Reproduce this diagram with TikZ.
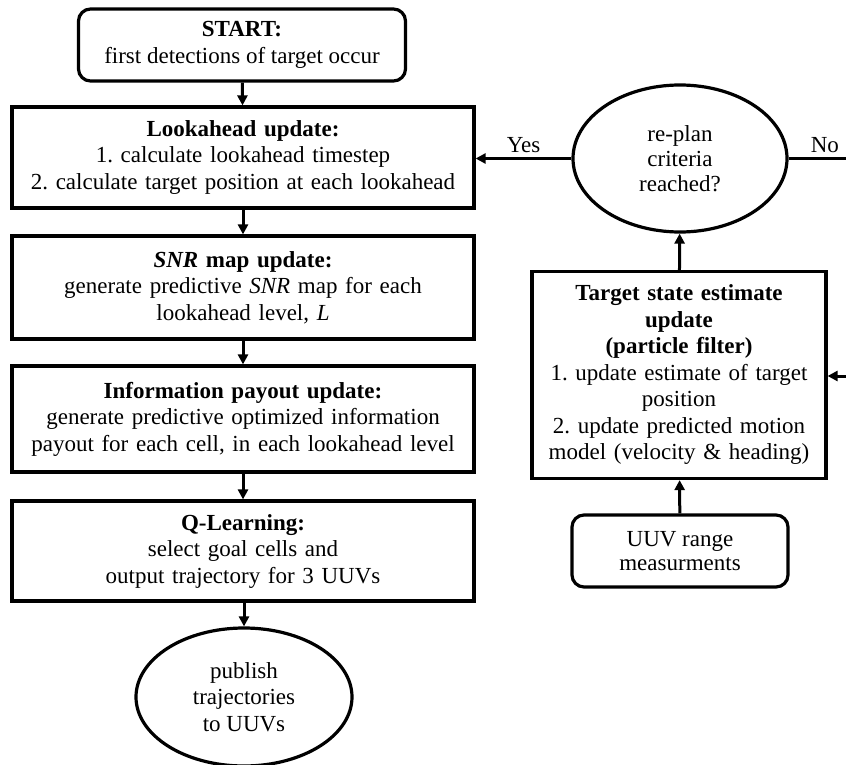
\documentclass[tikz,border=0pt]{standalone}
\usepackage{fontspec}
\setmainfont{Liberation Serif}
\usetikzlibrary{arrows.meta,shapes.geometric}
\frenchspacing
\begin{document}
\begin{tikzpicture}[x=1pt,y=-1pt,
  every node/.style={align=center,font=\fontsize{23}{26.5}\selectfont,inner sep=0pt},
  procbox/.style={draw,line width=3.2pt,minimum width=#1,text width=#1-8pt},
  termbox/.style={draw,line width=3.2pt,rounded corners=12pt,minimum width=#1},
  oval/.style={draw,ellipse,line width=3.2pt},
  flow/.style={line width=3pt,-{Triangle[length=10pt,width=10pt]}},
  edge/.style={line width=3pt}]
\useasboundingbox (0,0) rectangle (846,765);

% main column
\node[termbox=327pt,minimum height=72pt] (start) at (242,45)
  {\textbf{START:}\\first detections of target occur};
\node[procbox=462pt,minimum height=101pt] (look) at (243,157.5)
  {\textbf{Lookahead update:}\\1. calculate lookahead timestep\\2. calculate target position at each lookahead};
\node[procbox=462pt,minimum height=103pt] (snr) at (243,287.5)
  {\textbf{\textit{SNR} map update:}\\generate predictive \textit{SNR} map for each\\lookahead level, \textit{L}};
\node[procbox=462pt,minimum height=106pt] (info) at (243,419)
  {\textbf{Information payout update:}\\generate predictive optimized information\\payout for each cell, in each lookahead level};
\node[procbox=462pt,minimum height=100pt] (qlearn) at (243,551)
  {\textbf{Q-Learning:}\\select goal cells and\\output trajectory for 3 UUVs};
\node[oval,minimum width=216pt,minimum height=138pt] (pub) at (244,697)
  {publish\\trajectories\\to UUVs};

% right column
\node[oval,minimum width=214pt,minimum height=147pt,font=\fontsize{23}{25}\selectfont] (replan) at (680,158.5)
  {re-plan\\criteria\\reached?};
\node[procbox=294pt,minimum height=207pt] (target) at (679,375)
  {\textbf{Target state estimate}\\\textbf{update}\\\textbf{(particle filter)}\\1. update estimate of target\\position\\2. update predicted motion\\model (velocity \& heading)};
\node[termbox=216pt,minimum height=72pt,font=\fontsize{23}{24}\selectfont] (uuv) at (680,551)
  {UUV range\\measurments};

% connectors
\draw[flow] (start) -- (look);
\draw[flow] (look) -- (snr);
\draw[flow] (snr) -- (info);
\draw[flow] (info) -- (qlearn);
\draw[flow] (qlearn.south -| pub.north) -- (pub);
\draw[flow] (uuv) -- (target);
\draw[flow] (target) -- (replan);
\draw[flow] (replan.west) -- (replan.west -| look.east)
  node[midway,above=4pt] (yes) {Yes};
\coordinate (nocorner) at (849,158.5);
\coordinate (nodown) at (849,376);
\draw[edge] (replan.east) -- (nocorner) node[pos=0.6,above=4pt] (no) {No};
\draw[flow] (nocorner) -- (nodown) -- (nodown -| target.east);
\end{tikzpicture}
\end{document}
